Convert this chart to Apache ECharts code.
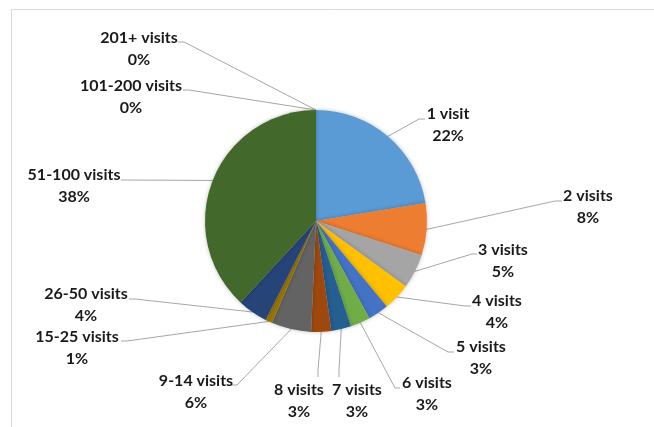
<!DOCTYPE html>
<html>
<head>
<meta charset="utf-8">
<script src="https://cdn.jsdelivr.net/npm/echarts@6/dist/echarts.min.js"></script>
<style>
html,body{margin:0;padding:0;background:#fff;}
#c{width:654px;height:427px;}
</style>
</head>
<body>
<div id="c"></div>
<script>
var categories = ['1 visit','2 visits','3 visits','4 visits','5 visits','6 visits','7 visits','8 visits','9-14 visits','15-25 visits','26-50 visits','51-100 visits','101-200 visits','201+ visits'];
var values = [22.4, 7.6, 5.0, 4.0, 3.0, 2.9, 2.9, 2.9, 5.8, 1.0, 4.4, 38.1, 0, 0];
var colors = ['#5B9BD5','#ED7D31','#A5A5A5','#FFC000','#4472C4','#70AD47','#255E91','#9E480E','#636363','#997300','#264478','#43682B','#698ED0','#F1975A'];

// label placement: [centerX, centerY, lineEndX, lineEndY, bendX, bendY]
var labelPlace = [
  [448, 125, 425, 119, 419, 119],
  [588, 207, 562, 201, 555, 201],
  [503, 261, 477, 254, 472, 254],
  [497, 312, 471, 306, 465, 306],
  [481, 358, 454, 352, 448, 352],
  [427, 394, 400, 388, 395, 388],
  [357, 401, 339, 377, 339, 370],
  [299, 401, 318, 377, 318, 370],
  [196, 392, 231, 385, 237, 385],
  [77, 348, 121, 341, 127, 341],
  [86, 305, 129, 299, 135, 299],
  [74, 186, 121, 180, 127, 180],
  [131, 97, 183, 90, 189, 90],
  [139, 49, 178, 42, 184, 42]
];

var total = values.reduce(function(a,b){return a+b;},0);
var data = categories.map(function(n,i){
  return {name:n, value:values[i], itemStyle:{color:colors[i]}};
});

var chart = echarts.init(document.getElementById('c'));
chart.setOption({
  animation:false,
  graphic:[{type:'rect', shape:{x:11.5,y:9.5,width:700,height:500}, style:{fill:'none',stroke:'#d9d9d9',lineWidth:1}, silent:true}],
  series:[{
    type:'pie',
    center:[316,221],
    radius:111,
    startAngle:90,
    clockwise:true,
    avoidLabelOverlap:false,
    data:data,
    itemStyle:{borderWidth:0, shadowBlur:4, shadowColor:'rgba(0,0,0,0.25)'},
    label:{
      show:true,
      position:'outside',
      formatter:function(p){return p.name+'\n'+Math.round(p.value/total*100)+'%';},
      fontFamily:'Lato',
      fontWeight:'bold',
      fontSize:16,
      lineHeight:21.5,
      color:'#1a1a1a',
      align:'center'
    },
    labelLine:{show:true, length:10, length2:10, lineStyle:{color:'#a6a6a6', width:1}},
    labelLayout:function(params){
      var lp = labelPlace[params.dataIndex];
      var start = params.labelLinePoints ? params.labelLinePoints[0] : [316,221];
      return {
        x: lp[0], y: lp[1], align:'center', verticalAlign:'middle',
        labelLinePoints:[start, [lp[4],lp[5]], [lp[2],lp[3]]]
      };
    }
  }]
});
</script>
</body>
</html>
